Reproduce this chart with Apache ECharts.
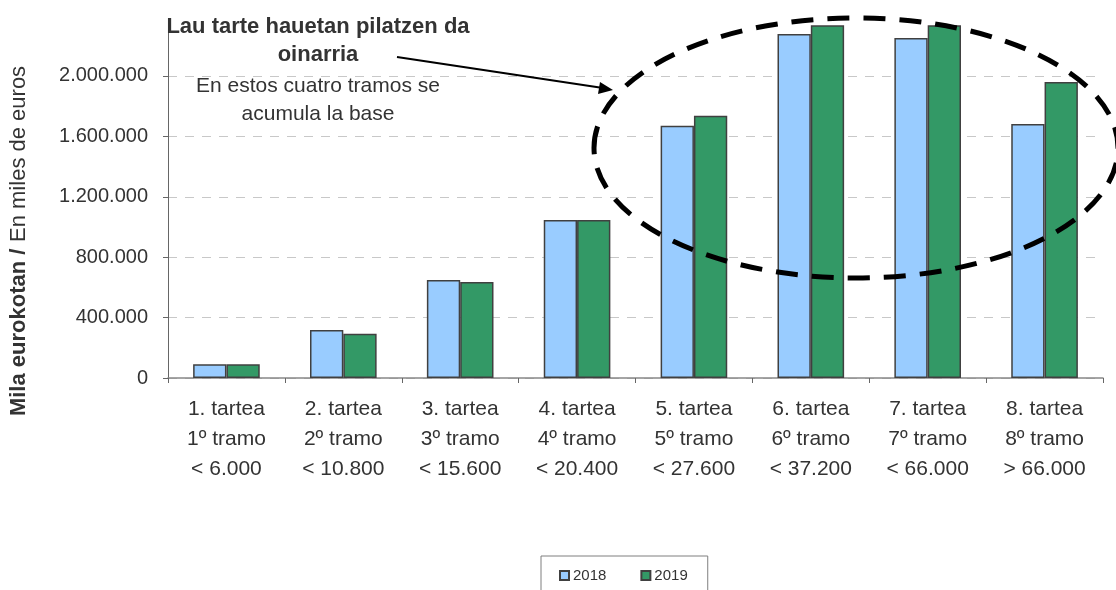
<!DOCTYPE html>
<html>
<head>
<meta charset="utf-8">
<script src="https://cdn.jsdelivr.net/npm/echarts@6/dist/echarts.min.js"></script>
<style>
	html, body { margin: 0; padding: 0; background: #fff; }
	#chart { width: 1116px; height: 590px; }
</style>
</head>
<body>
<div id="chart"></div>
<script>
// tarteak / tramos
var categories = [
	'1. tartea\n1º tramo\n< 6.000',
	'2. tartea\n2º tramo\n< 10.800',
	'3. tartea\n3º tramo\n< 15.600',
	'4. tartea\n4º tramo\n< 20.400',
	'5. tartea\n5º tramo\n< 27.600',
	'6. tartea\n6º tramo\n< 37.200',
	'7. tartea\n7º tramo\n< 66.000',
	'8. tartea\n8º tramo\n> 66.000'
];
var values2018 = [91000, 318000, 649000, 1046000, 1671000, 2278000, 2252000, 1682000];
var values2019 = [91000, 293000, 636000, 1046000, 1737000, 2345000, 2345000, 1960000];
var seriesNames = ['2018', '2019'];

var font = '"Liberation Sans", Arial, sans-serif';

// 2.000.000 formatua
function fmt(v) {
	return String(v).replace(/\B(?=(\d{3})+(?!\d))/g, '.');
}

var chart = echarts.init(document.getElementById('chart'));

var options = {
	animation: false,
	textStyle: { fontFamily: font },
	grid: { left: 168, right: 13, top: 26, bottom: 212 },
	legend: {
		data: seriesNames,
		left: 541, top: 556,
		padding: [12, 20, 20, 18],
		itemGap: 34,
		itemWidth: 9, itemHeight: 9,
		icon: 'rect',
		borderColor: '#7f7f7f', borderWidth: 1,
		textStyle: { fontFamily: font, fontSize: 15, color: '#333', padding: [0, 0, 0, -1] }
	},
	xAxis: {
		type: 'category',
		data: categories,
		axisLine: { lineStyle: { color: '#888', width: 1.5 } },
		axisTick: { show: true, length: 5, lineStyle: { color: '#666' } },
		axisLabel: {
			color: '#333', fontSize: 21, lineHeight: 30, margin: 16,
			fontFamily: font, interval: 0
		}
	},
	yAxis: {
		type: 'value',
		min: 0, max: 2331000, interval: 400000,
		axisLine: { show: true, lineStyle: { color: '#666', width: 1 } },
		axisTick: { show: true, length: 5, inside: false, lineStyle: { color: '#666' } },
		axisLabel: {
			color: '#333', fontSize: 20, margin: 20, fontFamily: font,
			showMaxLabel: false,
			formatter: function (v) { return v % 400000 === 0 ? fmt(v) : ''; }
		},
		splitLine: {
			show: true, showMaxLine: false,
			lineStyle: { color: '#c8c8c8', type: [9, 8], width: 1 }
		}
	},
	series: [
		{
			name: seriesNames[0],
			type: 'bar',
			data: values2018,
			barGap: '0%',
			barCategoryGap: '43%',
			itemStyle: { color: '#99ccff', borderColor: '#404040', borderWidth: 1.5 }
		},
		{
			name: seriesNames[1],
			type: 'bar',
			data: values2019,
			itemStyle: { color: '#339966', borderColor: '#404040', borderWidth: 1.5 }
		}
	],
	graphic: [
		{
			// ardatzaren izena
			type: 'text',
			x: 19, y: 241,
			rotation: Math.PI / 2,
			style: {
				text: '{b|Mila eurokotan /}  {n|En miles de euros}',
				align: 'center', verticalAlign: 'middle',
				fill: '#333',
				rich: {
					b: { fontFamily: font, fontSize: 22, fontWeight: 'bold', fill: '#333' },
					n: { fontFamily: font, fontSize: 22, fill: '#333' }
				}
			}
		},
		{
			type: 'text',
			x: 318, y: 13,
			z: 10,
			style: {
				text: 'Lau tarte hauetan pilatzen da\noinarria',
				font: 'bold 22px ' + font,
				fill: '#333', align: 'center', verticalAlign: 'top',
				lineHeight: 28
			}
		},
		{
			type: 'text',
			x: 318, y: 72,
			z: 10,
			style: {
				text: 'En estos cuatro tramos se\nacumula la base',
				font: '21px ' + font,
				fill: '#333', align: 'center', verticalAlign: 'top',
				lineHeight: 28
			}
		},
		{
			// gezia
			type: 'line',
			z: 10,
			shape: { x1: 397, y1: 57, x2: 603, y2: 88 },
			style: { stroke: '#000', lineWidth: 2 }
		},
		{
			type: 'polygon',
			z: 10,
			shape: { points: [[613, 90], [600, 82], [598, 94]] },
			style: { fill: '#000' }
		},
		{
			// elipse etena
			type: 'ellipse',
			z: 10,
			shape: { cx: 856, cy: 148, rx: 262, ry: 130 },
			style: { fill: null, stroke: '#000', lineWidth: 5, lineDash: [22, 14] }
		}
	]
};

chart.setOption(options);
</script>
</body>
</html>
